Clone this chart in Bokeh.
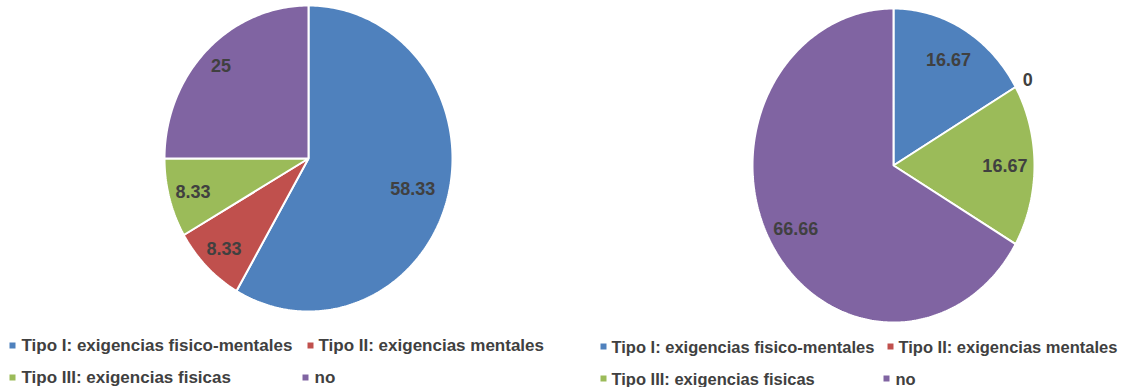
import numpy as np
from bokeh.plotting import figure
from bokeh.models import Range1d, ColumnDataSource
from bokeh.core.properties import value
from bokeh.embed import file_html
from bokeh.resources import INLINE

# Data
categories = [
    "Tipo I: exigencias fisico-mentales",
    "Tipo II: exigencias mentales",
    "Tipo III: exigencias fisicas",
    "no",
]
values_left = [58.33, 8.33, 8.33, 25]
values_right = [16.67, 0, 16.67, 66.66]

# Styling
colors = ["#4F81BD", "#C0504D", "#9BBB59", "#8064A2"]
FONT = value("Liberation Sans")
TEXT_COLOR = "#404040"

W, H = 1130, 387
p = figure(width=W, height=H, x_range=Range1d(0, W), y_range=Range1d(H, 0),
           x_axis_type=None, y_axis_type=None, output_backend="svg",
           toolbar_location=None, min_border=0)
p.grid.visible = False
p.outline_line_color = None
p.background_fill_color = "white"


def draw_pie(vals, cx, cy, rx, ry, label_r):
    total = float(sum(vals))
    start = 0.0
    xs, ys, cols = [], [], []
    lx, ly, lt = [], [], []
    for i, v in enumerate(vals):
        frac = v / total
        a0 = start * 2 * np.pi
        a1 = (start + frac) * 2 * np.pi
        if frac > 0:
            n = max(4, int(frac * 400))
            th = np.linspace(a0, a1, n)
            xs.append([cx] + list(cx + rx * np.sin(th)))
            ys.append([cy] + list(cy - ry * np.cos(th)))
            cols.append(colors[i])
        mid = (a0 + a1) / 2
        lx.append(cx + label_r[i] * rx * np.sin(mid))
        ly.append(cy - label_r[i] * ry * np.cos(mid))
        lt.append(f"{v:g}")
        start += frac
    p.patches(xs=xs, ys=ys, fill_color=cols, line_color="white", line_width=2)
    p.text(x=lx, y=ly, text=lt, text_font=FONT, text_font_style="bold",
           text_font_size="18px", text_color=TEXT_COLOR,
           text_align="center", text_baseline="middle")


draw_pie(values_left, 308, 158, 144, 153, [0.75, 0.83, 0.83, 0.86])
draw_pie(values_right, 893, 165, 141, 157, [0.78, 1.1, 0.79, 0.80])


def draw_legend(sq_x, txt_x, rows_y, size):
    src = ColumnDataSource(dict(sx=sq_x, tx=txt_x, y=rows_y,
                                c=colors, t=categories))
    p.scatter(x="sx", y="y", source=src, marker="square", size=6,
              fill_color="c", line_color=None)
    p.text(x="tx", y="y", text="t", source=src, text_font=FONT,
           text_font_style="bold", text_font_size=size,
           text_color=TEXT_COLOR, text_align="left", text_baseline="middle")


draw_legend([12, 310, 12, 305], [21, 318, 21, 314], [345, 345, 377, 377], "17px")
draw_legend([603, 890, 603, 886], [611, 898, 611, 895], [346, 346, 378, 378], "16.5px")

open("out.html", "w").write(file_html(p, INLINE))
